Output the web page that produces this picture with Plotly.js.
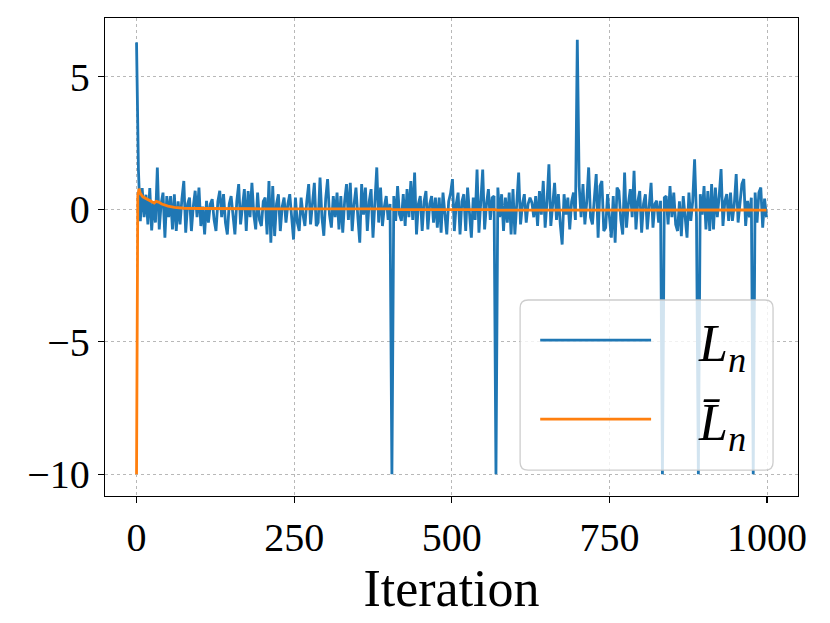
<!DOCTYPE html>
<html>
<head>
<meta charset="utf-8">
<script src="https://cdn.plot.ly/plotly-3.0.1.min.js"></script>
<style>html,body{margin:0;padding:0;background:#fff;}#chart{width:830px;height:623px;}</style>
</head>
<body>
<div id="chart"></div>
<script>
// L_n sampled every 3 iterations (0, 3, ..., 999)
const lnStart = 0;
const lnStep = 3;
const lnValues = [
  // 0..135
  6.3, 1.5, -0.45, 0.8, -0.3, 0.55, -0.57, 0.8, -0.8, 0.3, -0.5, 1.58, -0.76, 0.2, 0.63, -1.07, 0.5, -0.3, 0.5, -0.76, 0.57, -0.82, 0.3, -0.57, 0.4, 1.07, -0.88, 0.2, 0.44, -0.82, 0.1, 0.7, -0.3, 0.82, -0.63, 0.1, -0.95, 0.32, -0.5, 0.2, 0.38, -0.4, -0.82, 0.3, 0.7, -0.3,
  // 138..279
  0.57, -0.5, -0.95, 0.2, 0.5, -0.3, -0.95, 0.3, 0.95, -0.57, 0.2, 0.76, -0.82, 0.69, -0.3, 1.0, -0.2, -0.76, 0.63, -0.4, -0.63, 0.3, 0.44, -0.95, 1.07, -1.26, 0.88, -1.01, 0.2, 0.57, -0.82, 0.1, 0.44, -0.5, 0.2, 0.57, -0.3, -1.14, 0.44, -0.5, -0.82, 0.44, -0.2, -0.63, 0.3, 0.95, -0.57, 0.3,
  // 282..420
  1.0, -0.63, -0.5, 1.2, -0.3, -1.0, 0.4, 1.14, -0.2, -0.69, 0.5, -0.3, 0.63, -0.76, 0.5, -0.88, 0.3, 0.95, -0.4, 1.0, -0.82, 0.2, 0.82, -0.3, -1.26, 0.95, -0.2, 0.82, -0.82, 0.3, 0.76, -1.07, 0.2, 1.58, -0.5, 0.82, -0.63, 0.1, 0.5, -0.4, 0.2, -10, 0.5, -0.44, 0.88, -0.2, -0.44,
  // 423..564
  0.57, -0.63, 0.76, -0.3, 1.07, -0.4, 1.39, -0.95, 0.2, 0.5, -0.82, 0.3, 0.69, -0.76, 0.2, 0.5, -0.5, 0.44, -0.69, 0.44, -0.88, 0.63, -0.3, -0.95, 0.3, 0.6, 1.14, -0.82, 0.2, 0.63, -0.95, 0.3, 0.57, -0.82, 0.82, -0.3, -1.07, 0.44, -0.4, 1.5, -0.88, 0.3, 1.5, -0.76, 0.2, 0.76, -0.4, 0.44,
  // 567..708
  0.5, -10, 0.82, -0.3, 0.57, -0.82, 0.44, -0.5, 0.63, -0.95, 0.76, -0.95, 0.44, 1.39, -0.57, 0.2, 0.57, -0.5, 0.2, 0.44, 0.25, -0.3, 0.5, -0.63, 0.69, -0.2, 1.07, -0.69, 0.3, 1.7, -0.63, 0.3, 1.0, -0.4, 0.57, -0.57, -1.33, 0.57, -0.2, 0.44, -0.76, 0.3, 0.63, -0.4, 6.4, 0.88, -0.3, 0.95,
  // 711..849
  -0.57, 0.3, 1.58, -0.3, -0.57, 0.4, 1.33, -1.07, 0.88, 1.07, -0.82, -0.69, 0.57, -0.3, -1.07, 0.5, -1.26, 0.82, 0.69, -0.4, -0.95, 1.39, -0.69, 0.2, 0.76, -0.3, 1.45, -0.76, 0.3, 0.69, -0.88, 0.2, 0.57, -0.76, 0.3, 1.0, -0.69, 0.2, 0.32, -0.5, 0.32, -10, 0.44, 0.5, -0.57, 0.88, -0.3,
  // 852..999
  0.63, -0.57, -0.82, 0.3, -1.01, 0.5, -0.4, -1.07, 0.63, -0.44, 0.3, 1.89, -0.3, -10, 0.57, -0.2, 0.88, -0.76, 0.69, -0.82, 0.95, -0.76, 0.82, -0.3, 0.5, 1.52, -0.63, 0.3, 0.57, -0.44, 0.63, -0.44, 0.2, 1.33, -0.5, 0.3, 0.95, 1.14, -0.63, 0.32, -0.3, 0.44, -10, 0.63, -0.5, 0.63, 0.82, -0.69, 0.4, -0.3
];

// running mean \bar L_n
const lbarIter = [0, 2, 4, 6, 10, 15, 20, 25, 28, 31, 35, 40, 50, 60, 75, 100, 150, 200, 300, 403, 406, 500, 569, 572, 700, 833, 836, 890, 893, 977, 980, 999];
const lbarValues = [-10, 0.5, 0.78, 0.6, 0.47, 0.4, 0.34, 0.28, 0.24, 0.3, 0.27, 0.2, 0.12, 0.07, 0.04, 0.03, 0.02, 0.02, 0.02, 0.02, -0.01, 0, -0.01, -0.03, -0.02, -0.01, -0.03, -0.02, -0.03, -0.02, -0.03, -0.03];

const xTicks = [0, 250, 500, 750, 1000];
const yTicks = [-10, -5, 0, 5];
const legendLabels = ['<i>L</i><sub><i>n</i></sub>', '<i>L\u0304</i><sub><i>n</i></sub>'];
const blue = '#1f77b4', orange = '#ff7f0e';

const traces = [
  {type: 'scatter', mode: 'lines', y: lnValues, x0: lnStart, dx: lnStep,
   line: {color: blue, width: 2.8}, hoverinfo: 'skip', showlegend: false},
  {type: 'scatter', mode: 'lines', x: lbarIter, y: lbarValues,
   line: {color: orange, width: 2.8}, hoverinfo: 'skip', showlegend: false}
];

const serif = '"Liberation Serif", "DejaVu Serif", serif';
const axisCommon = {
  showline: true, mirror: true, linecolor: '#000', linewidth: 1.3,
  ticks: 'outside', ticklen: 6, tickwidth: 1.2, tickcolor: '#000',
  showgrid: true, gridcolor: '#b8b8b8', gridwidth: 1, griddash: 'dot',
  zeroline: false, tickfont: {family: serif, size: 40, color: '#000'}
};

// legend box in paper coordinates
const bx0 = 0.599, bx1 = 0.964, by0 = 0.054, by1 = 0.41;
const rx = 0.0115, ry = 0.0167;
const boxPath = `M${bx0+rx},${by0} L${bx1-rx},${by0} Q${bx1},${by0} ${bx1},${by0+ry} L${bx1},${by1-ry} Q${bx1},${by1} ${bx1-rx},${by1} L${bx0+rx},${by1} Q${bx0},${by1} ${bx0},${by1-ry} L${bx0},${by0+ry} Q${bx0},${by0} ${bx0+rx},${by0} Z`;

const layout = {
  width: 830, height: 623,
  margin: {l: 105, r: 32, t: 18, b: 127},
  paper_bgcolor: '#fff', plot_bgcolor: '#fff',
  showlegend: false,
  xaxis: Object.assign({}, axisCommon, {
    range: [-50, 1049], tickvals: xTicks,
    title: {text: 'Iteration', font: {family: serif, size: 52, color: '#000'}, standoff: 0}
  }),
  yaxis: Object.assign({}, axisCommon, {
    range: [-10.82, 7.22], tickvals: yTicks
  }),
  shapes: [
    {type: 'path', xref: 'paper', yref: 'paper', path: boxPath, layer: 'above',
     fillcolor: 'rgba(255,255,255,0.8)', line: {color: 'rgba(200,200,200,0.9)', width: 1.3}},
    {type: 'line', xref: 'paper', yref: 'paper', x0: 0.628, x1: 0.788, y0: 0.326, y1: 0.326, layer: 'above',
     line: {color: blue, width: 2.8}},
    {type: 'line', xref: 'paper', yref: 'paper', x0: 0.628, x1: 0.788, y0: 0.161, y1: 0.161, layer: 'above',
     line: {color: orange, width: 2.8}}
  ],
  annotations: [
    {xref: 'paper', yref: 'paper', x: 0.89, y: 0.31, text: legendLabels[0], showarrow: false,
     xanchor: 'center', yanchor: 'middle', font: {family: serif, size: 52, color: '#000'}},
    {xref: 'paper', yref: 'paper', x: 0.89, y: 0.145, text: legendLabels[1], showarrow: false,
     xanchor: 'center', yanchor: 'middle', font: {family: serif, size: 52, color: '#000'}}
  ]
};

Plotly.newPlot('chart', traces, layout, {staticPlot: true, displayModeBar: false});
</script>
</body>
</html>
